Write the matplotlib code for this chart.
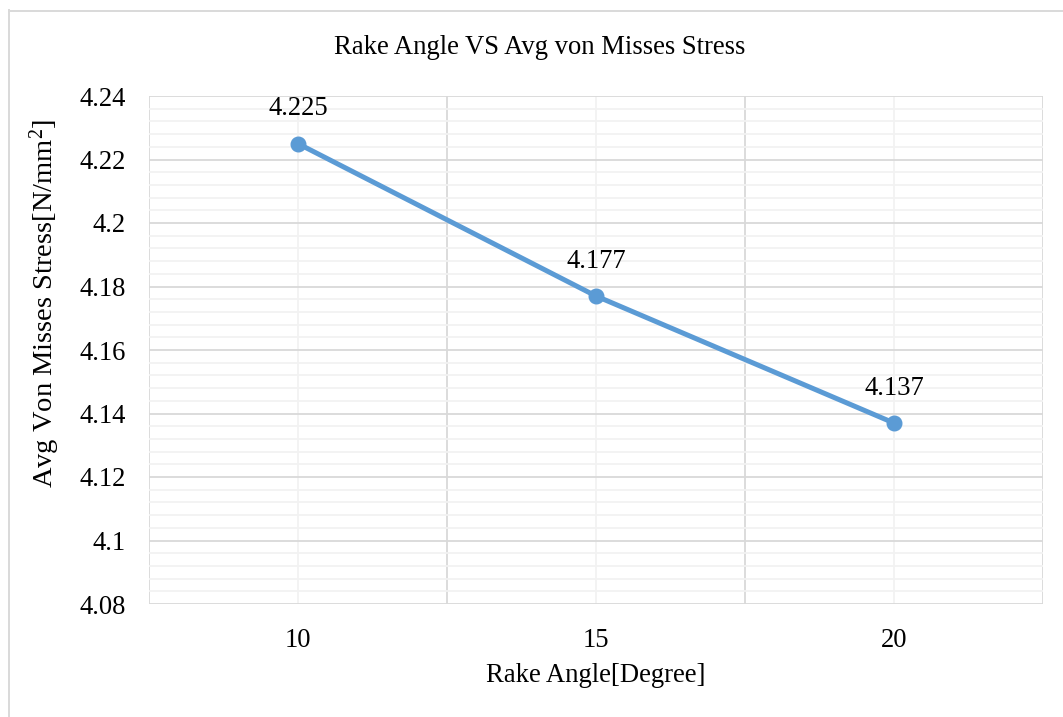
import matplotlib
matplotlib.use("Agg")
import matplotlib.pyplot as plt
from matplotlib.lines import Line2D
from matplotlib.ticker import MultipleLocator

# Rake angle study: average von Mises stress per rake angle
rake_angles = ["10", "15", "20"]
avg_stress = [4.225, 4.177, 4.137]
y_ticks = [4.08, 4.10, 4.12, 4.14, 4.16, 4.18, 4.20, 4.22, 4.24]
y_tick_labels = ["4.08", "4.1", "4.12", "4.14", "4.16", "4.18", "4.2", "4.22", "4.24"]

title = "Rake Angle VS Avg von Misses Stress"
x_title = "Rake Angle[Degree]"
y_title = r"Avg Von Misses Stress[N/mm$^{2}$]"

plt.rcParams["font.family"] = ["Liberation Serif", "DejaVu Serif"]
plt.rcParams["mathtext.fontset"] = "custom"
plt.rcParams["mathtext.rm"] = "Liberation Serif"
plt.rcParams["mathtext.it"] = "Liberation Serif:italic"
plt.rcParams["mathtext.default"] = "rm"

W, H = 1063, 717
fig = plt.figure(figsize=(W / 100, H / 100), dpi=100)

major_c = "#D9D9D9"
minor_c = "#F2F2F2"
line_c = "#5B9BD5"
fs = 19.2

# chart area frame (left and top edges)
fig.add_artist(Line2D([8.5 / W, 8.5 / W], [0, 1 - 10 / H], transform=fig.transFigure,
                      color=major_c, lw=1.4))
fig.add_artist(Line2D([8.5 / W, 1], [1 - 10.5 / H, 1 - 10.5 / H], transform=fig.transFigure,
                      color=major_c, lw=1.4))

left, right, top, bottom = 149, 1043, 96, 604
ax = fig.add_axes([left / W, 1 - bottom / H, (right - left) / W, (bottom - top) / H])

x = list(range(len(rake_angles)))
ax.set_xlim(-0.5, len(rake_angles) - 0.5)
ax.set_ylim(y_ticks[0], y_ticks[-1])

# gridlines
ax.yaxis.set_minor_locator(MultipleLocator(0.004))
ax.set_yticks(y_ticks)
ax.set_yticklabels(y_tick_labels)
ax.grid(which="minor", axis="y", color=minor_c, lw=1.3, zorder=0)
ax.grid(which="major", axis="y", color=major_c, lw=1.3, zorder=0.5)
for xi in x:
    ax.axvline(xi, color=minor_c, lw=1.3, zorder=0.2)
for b in [i - 0.5 for i in range(len(rake_angles) + 1)]:
    ax.axvline(b, color=major_c, lw=1.3, zorder=0.6)

for s in ax.spines.values():
    s.set_visible(False)

ax.set_xticks(x)
ax.set_xticklabels(rake_angles)
ax.tick_params(which="both", length=0)
ax.tick_params(axis="y", pad=16.5, labelsize=fs, colors="#000000")
ax.tick_params(axis="x", pad=17, labelsize=fs, colors="#000000")

ax.plot(x, avg_stress, color=line_c, lw=3.6, marker="o", ms=10.5,
        solid_capstyle="round", zorder=3, clip_on=False)

for xi, v in zip(x, avg_stress):
    ax.annotate(f"{v:.3f}", (xi, v), xytext=(0, 25), textcoords="offset points",
                ha="center", va="center", fontsize=fs, color="#000000")

fig.text(540 / W, 1 - 48 / H, title, ha="center", va="center", fontsize=fs)
fig.text(596 / W, 1 - 676 / H, x_title, ha="center", va="center", fontsize=fs)
fig.text(45 / W, 1 - 303 / H, y_title, ha="center", va="center", rotation=90,
         fontsize=20.5)

fig.savefig("out.png", dpi=100, facecolor="white")
